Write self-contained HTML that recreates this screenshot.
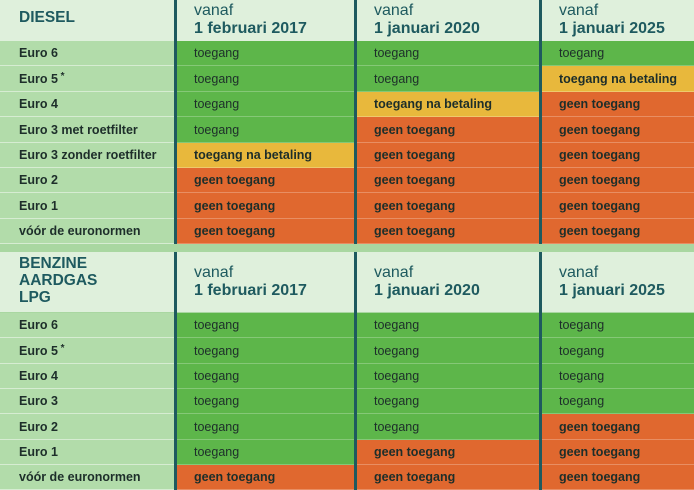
<!DOCTYPE html>
<html><head><meta charset="utf-8"><style>
*{margin:0;padding:0;box-sizing:border-box}
body{width:694px;height:490px;overflow:hidden;background:#a9d7a1;font-family:"Liberation Sans",sans-serif;position:relative}
.a{position:absolute}
.hdr{background:#dff0dc}
.lab{background:#b2dcaa;color:#1d2e2a;font-weight:bold;font-size:12.5px;padding-left:19px;display:flex;align-items:center;border-bottom:1px solid #d6ecd2}
.c{font-size:12.5px;color:#1d2e2a;padding-left:17px;display:flex;align-items:center;border-bottom:1px solid rgba(255,255,255,.25)}
.g{background:#5db64a}.o{background:#e0682f;font-weight:bold}.y{background:#e8b83c;font-weight:bold}
.vl{background:#1e5a5f;width:3px}
.h{color:#1e5a5f;font-size:16px;line-height:18px;padding-left:17px}
.h b{font-size:16px}
.t{color:#1e5a5f;font-weight:bold;font-size:15.5px;line-height:17px}
sup{font-size:10px;position:relative;top:-2px}
</style></head><body>
<div class="a hdr" style="left:0;top:0;width:694px;height:41px"></div>
<div class="a t" style="left:19px;top:9px">DIESEL</div>
<div class="a h" style="left:177px;top:2px">vanaf<br><b>1 februari 2017</b></div>
<div class="a h" style="left:357px;top:2px">vanaf<br><b>1 januari 2020</b></div>
<div class="a h" style="left:542px;top:2px">vanaf<br><b>1 januari 2025</b></div>

<div class="a hdr" style="left:0;top:252px;width:694px;height:60px"></div>
<div class="a t" style="left:19px;top:255px">BENZINE<br>AARDGAS<br>LPG</div>
<div class="a h" style="left:177px;top:264px">vanaf<br><b>1 februari 2017</b></div>
<div class="a h" style="left:357px;top:264px">vanaf<br><b>1 januari 2020</b></div>
<div class="a h" style="left:542px;top:264px">vanaf<br><b>1 januari 2025</b></div>

<div id="rows"></div>
<script>
var T={g:"toegang",o:"geen toegang",y:"toegang na betaling"};
function sec(top,h,rows){var s="";rows.forEach(function(r,i){var y=Math.round(top+i*h),hh=Math.round(top+(i+1)*h)-y;
s+='<div class="a lab" style="left:0;top:'+y+'px;width:174px;height:'+hh+'px">'+r[0]+'</div>';
var xs=[[177,177],[357,182],[542,152]];
for(var k=0;k<3;k++){s+='<div class="a c '+r[1][k]+'" style="left:'+xs[k][0]+'px;top:'+y+'px;width:'+xs[k][1]+'px;height:'+hh+'px">'+T[r[1][k]]+'</div>';}
});return s;}
var h=sec(41,25.4,[["Euro 6","ggg"],["Euro 5<sup>&nbsp;*</sup>","ggy"],["Euro 4","gyo"],["Euro 3 met roetfilter","goo"],["Euro 3 zonder roetfilter","yoo"],["Euro 2","ooo"],["Euro 1","ooo"],["vóór de euronormen","ooo"]]);
h+=sec(313,25.3,[["Euro 6","ggg"],["Euro 5<sup>&nbsp;*</sup>","ggg"],["Euro 4","ggg"],["Euro 3","ggg"],["Euro 2","ggo"],["Euro 1","goo"],["vóór de euronormen","ooo"]]);
h+='<div class="a vl" style="left:174px;top:0;height:244px"></div><div class="a vl" style="left:354px;top:0;height:244px"></div><div class="a vl" style="left:539px;top:0;height:244px"></div>';
h+='<div class="a vl" style="left:174px;top:252px;height:238px"></div><div class="a vl" style="left:354px;top:252px;height:238px"></div><div class="a vl" style="left:539px;top:252px;height:238px"></div>';
document.getElementById("rows").innerHTML=h;
</script>
</body></html>
